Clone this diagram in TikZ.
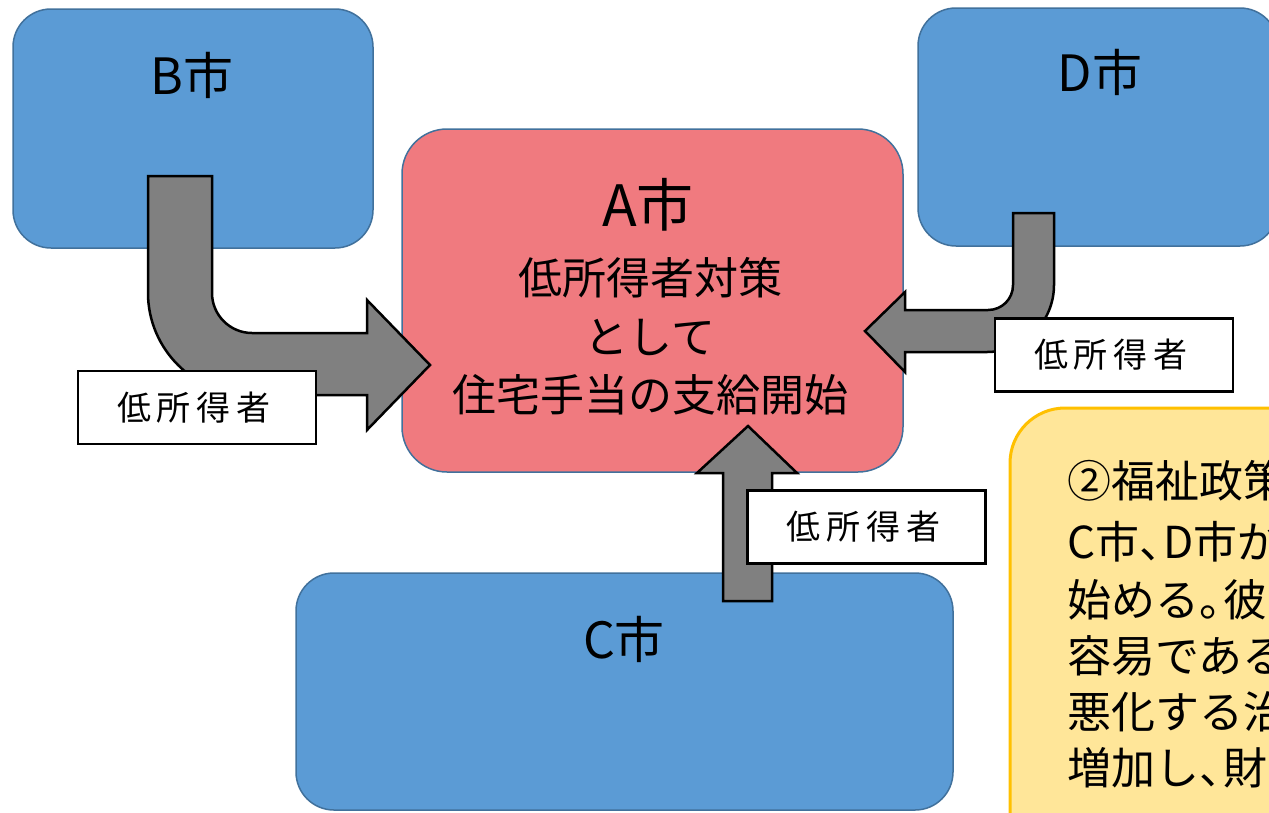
\documentclass[tikz,border=0pt]{standalone}
\usepackage{fontspec}
\setmainfont{Noto Sans CJK JP}
\definecolor{cityblue}{HTML}{5B9BD5}
\definecolor{boxedge}{HTML}{41719C}
\definecolor{cityred}{HTML}{F07A7F}
\definecolor{noteyellow}{HTML}{FFE699}
\definecolor{noteedge}{HTML}{FFC000}
\definecolor{arrowgray}{HTML}{808080}
\newcommand\lowinc{低\kern6pt 所\kern6pt 得\kern6pt 者\kern6pt}
\newcommand\hpunct[1]{\makebox[0.55em][l]{#1}}
\begin{document}
\begin{tikzpicture}[x=1pt,y=-1pt,
  city/.style={draw=boxedge, line width=1.5pt, fill=cityblue, rounded corners=38pt, inner sep=0pt, outer sep=0pt},
  centre/.style={draw=boxedge, line width=1.5pt, fill=cityred, rounded corners=45pt, inner sep=0pt, outer sep=0pt},
  note/.style={draw=noteedge, line width=3pt, fill=noteyellow, rounded corners=55pt, inner sep=0pt, outer sep=0pt},
  cityname/.style={font=\fontsize{50}{56}\selectfont, inner sep=0pt},
  maintext/.style={font=\fontsize{44}{50}\selectfont, inner sep=0pt},
  notetext/.style={font=\fontsize{44}{50}\selectfont, inner sep=0pt, anchor=west},
  flow/.style={draw=black, line width=2.5pt, fill=arrowgray, line join=miter},
  tag/.style={draw=black, line width=2.5pt, fill=white, minimum width=238pt, minimum height=73pt, inner sep=0pt, font=\fontsize{34}{40}\selectfont}]
\useasboundingbox (0,0) rectangle (1269,812);
\clip (0,0) rectangle (1269,812);
% boxes
\node[city, minimum width=360pt, minimum height=239pt] (B) at (193,128.5) {};
\node[city, minimum width=360pt, minimum height=238pt] (D) at (1098,127) {};
\node[centre, minimum width=501pt, minimum height=343pt] (A) at (652.5,300.5) {};
\node[city, minimum width=657pt, minimum height=237pt] (C) at (624.5,691.5) {};
\node[note, minimum width=500pt, minimum height=500pt, anchor=north west] (Y) at (1010,408) {};
% city names
\node[cityname] (Bn) at (192,75) {B市};
\node[cityname] (Dn) at (1100,72) {D市};
\node[cityname] (Cn) at (624,639) {C市};
\node[font=\fontsize{57}{62}\selectfont, inner sep=0pt] (An) at (648,205) {A市};
\node[maintext] (A1) at (650,278) {低所得者対策};
\node[maintext] (A2) at (650,337) {として};
\node[maintext] (A3) at (650,395) {住宅手当の支給開始};
% block arrows
\draw[flow] (148,176) -- (148,293) .. controls (148,349) and (194,395) .. (250,395)
  -- (367,395) -- (367,430) -- (430,365) -- (367,300) -- (367,333) -- (252,333)
  .. controls (230,333) and (212,315) .. (212,293) -- (212,176) -- cycle;
\draw[flow] (1054,213) -- (1054,285) .. controls (1054,322) and (1024,352) .. (987,352)
  -- (905,352) -- (905,372) -- (865,331) -- (905,292) -- (905,310) -- (988,310)
  .. controls (1002,310) and (1013,299) .. (1013,285) -- (1013,213) -- cycle;
\draw[flow] (723,601) -- (723,473) -- (697,473) -- (748,426) -- (797,473) -- (772,473) -- (772,601) -- cycle;
% labels
\node[tag] (LB) at (197,407.5) {\lowinc};
\node[tag] (LD) at (1114,355) {\lowinc};
\node[tag] (LC) at (866.5,527) {\lowinc};
% note text
\node[notetext] (Y1) at (1067,481) {②福祉政策};
\node[notetext] (Y2) at (1067,542) {C市\hpunct{、}D市が};
\node[notetext] (Y3) at (1067,600) {始める\hpunct{。}彼};
\node[notetext] (Y4) at (1067,656) {容易である};
\node[notetext] (Y5) at (1067,712) {悪化する治};
\node[notetext] (Y6) at (1067,768) {増加し\hpunct{、}財};
\end{tikzpicture}
\end{document}
